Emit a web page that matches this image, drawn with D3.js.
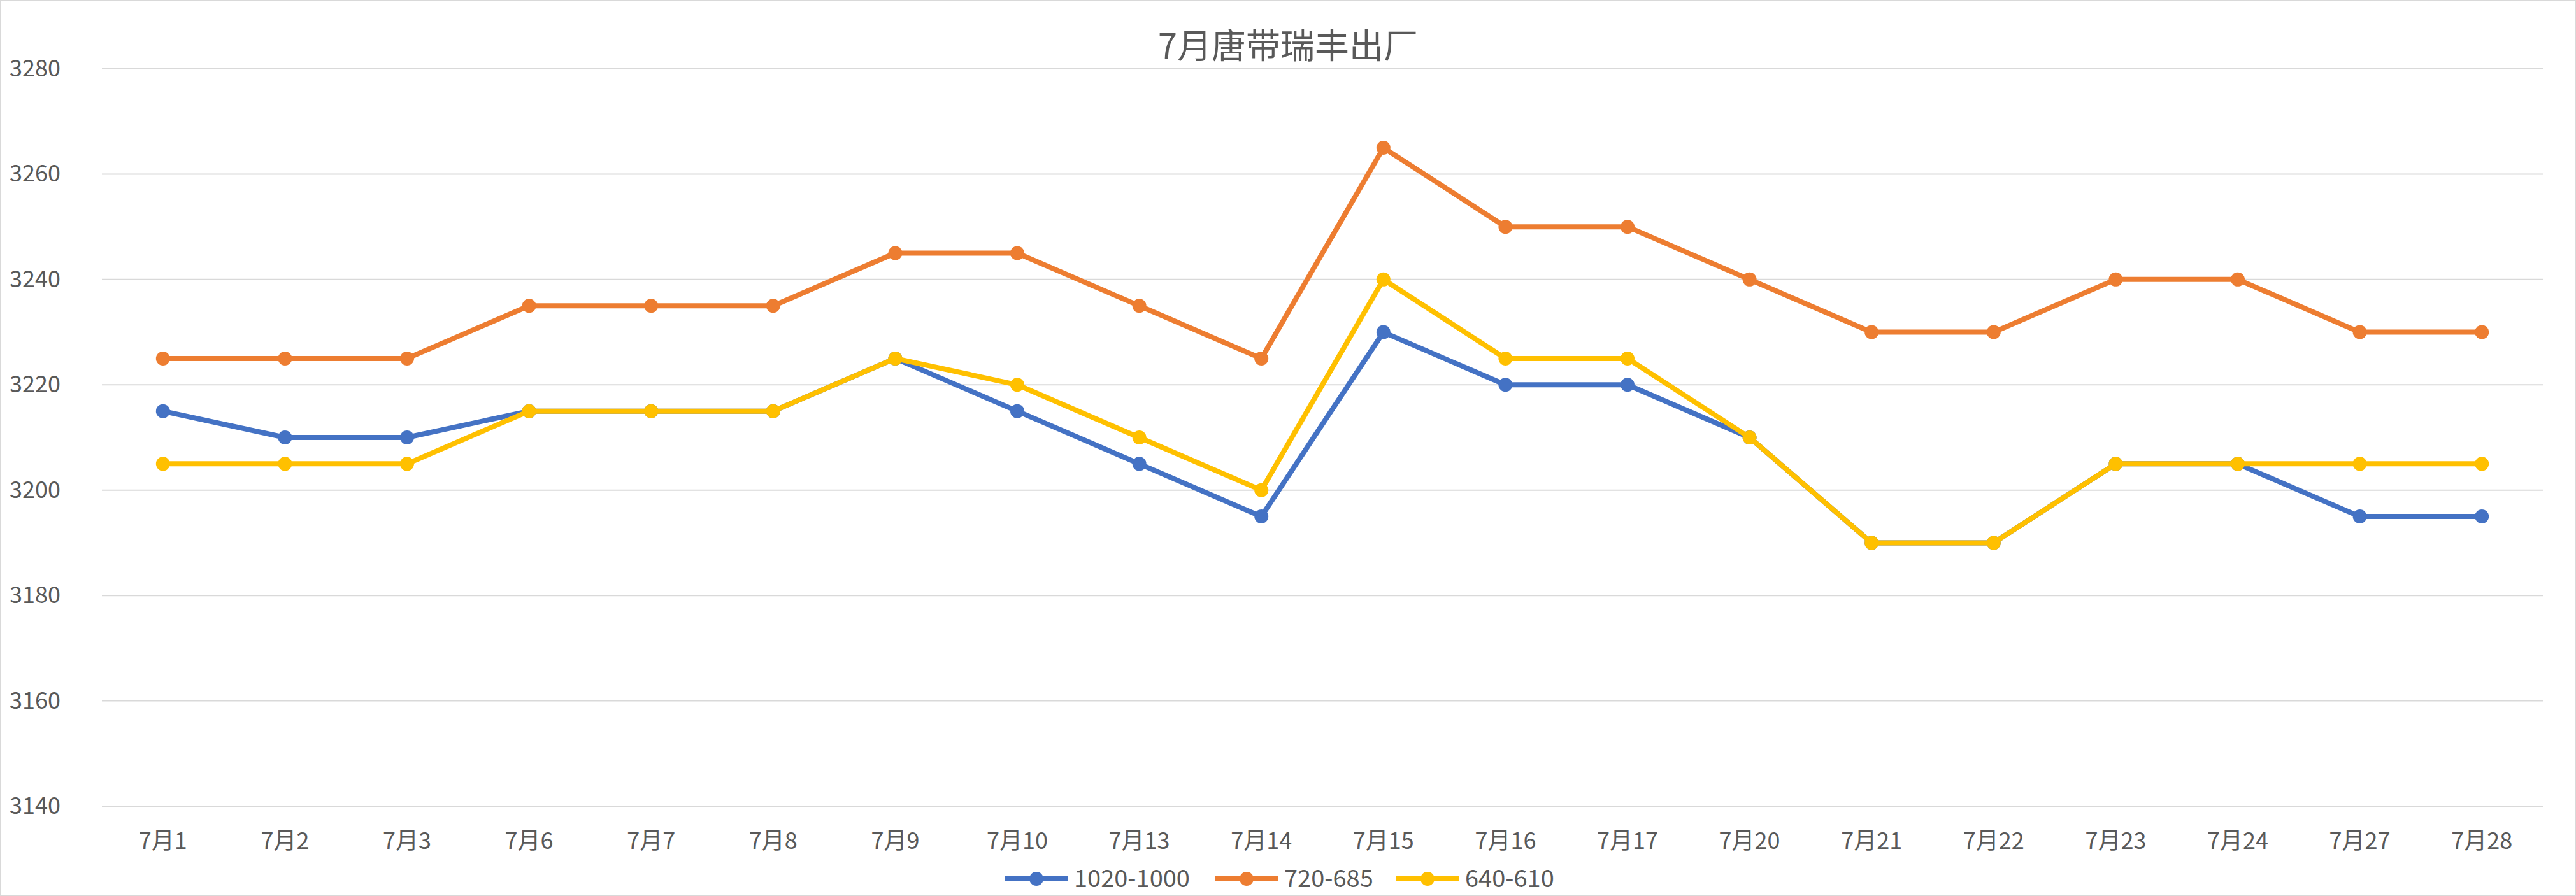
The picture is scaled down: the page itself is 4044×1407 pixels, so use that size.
<!DOCTYPE html>
<html><head><meta charset="utf-8">
<script src="https://cdn.jsdelivr.net/npm/d3@7"></script>
<style>body{margin:0;background:#fff}text{font-family:"Microsoft YaHei","Noto Sans CJK SC",sans-serif}</style>
</head><body>
<script>
var categories = ["7月1","7月2","7月3","7月6","7月7","7月8","7月9","7月10","7月13","7月14","7月15","7月16","7月17","7月20","7月21","7月22","7月23","7月24","7月27","7月28"];
var seriesNames = ["1020-1000","720-685","640-610"];
var colors = ["#4472C4","#ED7D31","#FFC000"];
var blue = [3215,3210,3210,3215,3215,3215,3225,3215,3205,3195,3230,3220,3220,3210,3190,3190,3205,3205,3195,3195];
var orange = [3225,3225,3225,3235,3235,3235,3245,3245,3235,3225,3265,3250,3250,3240,3230,3230,3240,3240,3230,3230];
var yellow = [3205,3205,3205,3215,3215,3215,3225,3220,3210,3200,3240,3225,3225,3210,3190,3190,3205,3205,3205,3205];
var yTicks = [3140,3160,3180,3200,3220,3240,3260,3280];

var W = 4044, H = 1407;
var mLeft = 160, mRight = 3992, mTop = 108, mBottom = 1266;

var svg = d3.select("body").append("svg").attr("width", W).attr("height", H);
svg.append("rect").attr("x",1).attr("y",1).attr("width",W-2).attr("height",H-2).attr("fill","#fff").attr("stroke","#d9d9d9").attr("stroke-width",2);

var x = d3.scalePoint().domain(categories).range([mLeft, mRight]).padding(0.5);
var y = d3.scaleLinear().domain([3140, 3280]).range([mBottom, mTop]);

// grid
svg.selectAll(".grid").data(yTicks).enter().append("line")
  .attr("x1", mLeft).attr("x2", mRight)
  .attr("y1", function(d){ return y(d); }).attr("y2", function(d){ return y(d); })
  .attr("stroke", "#d9d9d9").attr("stroke-width", 2);

svg.selectAll(".ylab").data(yTicks).enter().append("text")
  .attr("x", 95).attr("y", function(d){ return y(d) + 12; })
  .attr("text-anchor", "end").attr("font-size", 36).attr("fill", "#595959")
  .text(function(d){ return d; });

svg.selectAll(".xlab").data(categories).enter().append("text")
  .attr("x", function(d){ return x(d); }).attr("y", 1333)
  .attr("text-anchor", "middle").attr("font-size", 36).attr("fill", "#595959")
  .text(function(d){ return d; });

svg.append("text").attr("x", W/2).attr("y", 92).attr("text-anchor", "middle")
  .attr("font-size", 54).attr("fill", "#595959").text("7月唐带瑞丰出厂");

var all = [blue, orange, yellow];
var line = d3.line().x(function(d,i){ return x(categories[i]); }).y(function(d){ return y(d); });
all.forEach(function(s, k){
  svg.append("path").attr("d", line(s)).attr("fill","none")
    .attr("stroke", colors[k]).attr("stroke-width", 8).attr("stroke-linejoin","round");
  svg.selectAll(".dot"+k).data(s).enter().append("circle")
    .attr("cx", function(d,i){ return x(categories[i]); })
    .attr("cy", function(d){ return y(d); })
    .attr("r", 11).attr("fill", colors[k]);
});

// legend
var lx = [1578, 1908, 2192];
seriesNames.forEach(function(n, k){
  var g = svg.append("g").attr("transform","translate("+lx[k]+",1380)");
  g.append("line").attr("x1",0).attr("x2",98).attr("stroke",colors[k]).attr("stroke-width",8);
  g.append("circle").attr("cx",49).attr("r",11).attr("fill",colors[k]);
  g.append("text").attr("x",108).attr("y",13).attr("font-size",38).attr("fill","#595959").text(n);
});
</script>
</body></html>
